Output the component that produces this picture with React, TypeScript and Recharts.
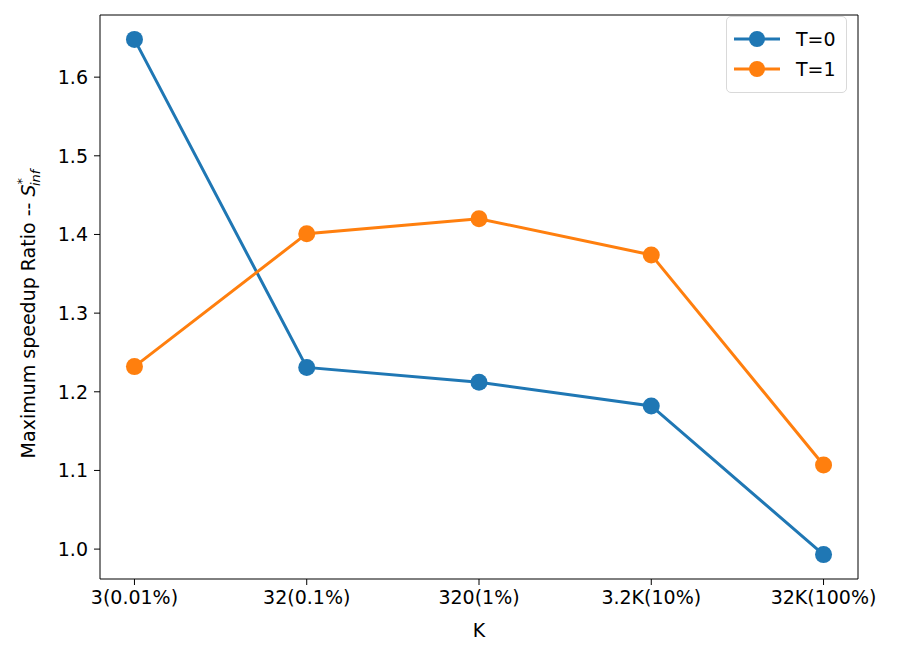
import React from 'react';
import { LineChart, Line, XAxis, YAxis } from 'recharts';

const categories = ['3(0.01%)', '32(0.1%)', '320(1%)', '3.2K(10%)', '32K(100%)'];
const t0Values = [1.648, 1.231, 1.212, 1.182, 0.993];
const t1Values = [1.232, 1.401, 1.42, 1.374, 1.107];
const yTicks = [1.0, 1.1, 1.2, 1.3, 1.4, 1.5, 1.6];

const data = categories.map((name, i) => ({ x: i, name, t0: t0Values[i], t1: t1Values[i] }));

const FONT = '"DejaVu Sans", sans-serif';
const BLUE = '#1f77b4';
const ORANGE = '#ff7f0e';

const YLabel = () => (
  <text
    transform="translate(35, 314) rotate(-90)"
    textAnchor="middle"
    fontFamily={FONT}
    fontSize={19}
    fill="#000"
  >
    <tspan>Maximum speedup Ratio -- </tspan>
    <tspan fontStyle="italic">S</tspan>
    <tspan fontStyle="italic" fontSize={13} dy={-9}>*</tspan>
    <tspan fontStyle="italic" fontSize={13} dx={-8} dy={14}>inf</tspan>
  </text>
);

const LegendBox = () => (
  <div
    style={{
      position: 'absolute',
      left: 726,
      top: 16,
      width: 121,
      height: 77,
      border: '1px solid #d9d9d9',
      borderRadius: 5,
      background: 'rgba(255,255,255,0.8)',
      fontFamily: FONT,
      fontSize: 19,
      boxSizing: 'border-box',
      paddingTop: 7,
    }}
  >
    {[
      { label: 'T=0', color: BLUE },
      { label: 'T=1', color: ORANGE },
    ].map((it) => (
      <div key={it.label} style={{ display: 'flex', alignItems: 'center', height: 30, paddingLeft: 5 }}>
        <svg width={50} height={20}>
          <line x1={2} y1={10} x2={48} y2={10} stroke={it.color} strokeWidth={3} />
          <circle cx={25} cy={10} r={8} fill={it.color} />
        </svg>
        <span style={{ marginLeft: 14 }}>{it.label}</span>
      </div>
    ))}
  </div>
);

export default function App() {
  return (
    <div style={{ position: 'absolute', left: 0, top: 0, width: 897, height: 659, background: '#fff' }}>
      <LineChart
        width={897}
        height={659}
        data={data}
        margin={{ top: 15, right: 39, bottom: 10, left: 40 }}
      >
        <XAxis
          dataKey="x"
          type="number"
          domain={[-0.2, 4.2]}
          ticks={[0, 1, 2, 3, 4]}
          tickFormatter={(v: number) => categories[v]}
          height={70}
          stroke="#000"
          tickSize={6}
          tick={{ fontFamily: FONT, fontSize: 19, fill: '#000' }}
          tickMargin={6}
          label={{ value: 'K', position: 'insideBottom', offset: 12, fontFamily: FONT, fontSize: 19, fill: '#000' }}
        />
        <YAxis
          type="number"
          domain={[0.962, 1.679]}
          ticks={yTicks}
          tickFormatter={(v: number) => v.toFixed(1)}
          width={60}
          stroke="#000"
          tickSize={6}
          tickMargin={6}
          tick={{ fontFamily: FONT, fontSize: 19, fill: '#000' }}
          label={<YLabel />}
        />
        <Line
          dataKey="t0"
          stroke={BLUE}
          strokeWidth={3}
          dot={{ r: 8.5, fill: BLUE, stroke: BLUE, strokeWidth: 0 }}
          isAnimationActive={false}
        />
        <Line
          dataKey="t1"
          stroke={ORANGE}
          strokeWidth={3}
          dot={{ r: 8.5, fill: ORANGE, stroke: ORANGE, strokeWidth: 0 }}
          isAnimationActive={false}
        />
        {/* top and right spines */}
        <line x1={100} y1={15} x2={858} y2={15} stroke="#000" />
        <line x1={858} y1={15} x2={858} y2={579} stroke="#000" />
      </LineChart>
      <LegendBox />
    </div>
  );
}
